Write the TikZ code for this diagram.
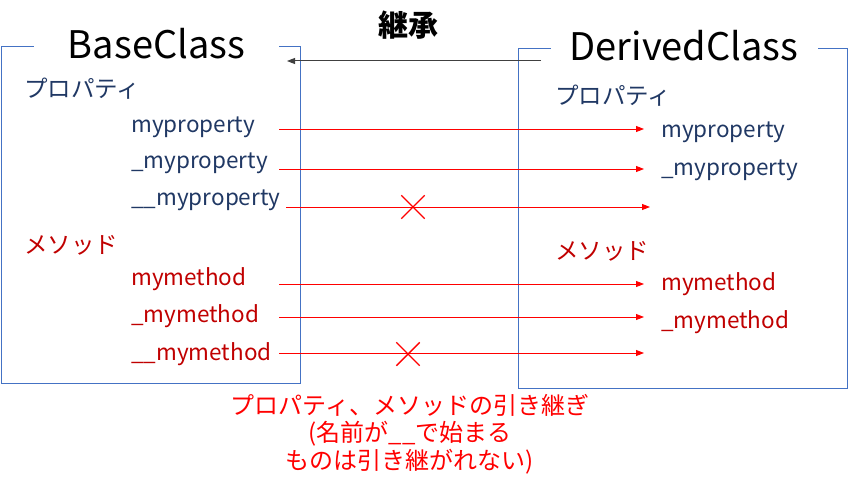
\documentclass[tikz,border=0pt]{standalone}
\usepackage{fontspec}
\setmainfont{Noto Sans CJK JP}
\usepackage{tikz}
\usetikzlibrary{arrows.meta,shapes.misc}
\definecolor{frameblue}{HTML}{4472C4}
\definecolor{propblue}{HTML}{203864}
\definecolor{methred}{HTML}{C00000}
\definecolor{inhgray}{HTML}{404040}

\begin{document}
\begin{tikzpicture}[x=1pt,y=-1pt,
		frame/.style={draw=frameblue,line width=1pt,inner sep=0pt},
		title/.style={fill=white,inner sep=0pt,font=\fontsize{38}{40}\selectfont},
		head/.style={anchor=base west,inner sep=0pt,font=\fontsize{23.5}{25}\selectfont},
		prop/.style={anchor=base west,inner sep=0pt,text=propblue,font=\fontsize{22.5}{24}\selectfont},
		meth/.style={prop,text=methred},
		pass/.style={draw=red,line width=0.9pt,-{Triangle[length=8pt,width=6pt]}},
		ng/.style={cross out,draw=red,line width=1.4pt,minimum size=22pt,inner sep=0pt}]
		\useasboundingbox (0,0) rectangle (848,495);
		\node[frame,minimum width=299pt,minimum height=336pt] (base) at (150.5,215) {};
		\node[frame,minimum width=329pt,minimum height=339pt] (derived) at (682.5,218.5) {};
		\node[title,minimum width=245pt,minimum height=14pt] (baseTitle) at (156.5,43.5) {BaseClass};
		\node[title,minimum width=267pt,minimum height=14pt] (derivedTitle) at (684,45.5) {DerivedClass};
		\node[font=\bfseries\fontsize{30}{32}\selectfont,inner sep=0pt] (inh) at (408,25) {継承};
		\coordinate (inhFrom) at (541,61);
		\coordinate (inhTo) at (287,61);
		\draw[line width=1pt,draw=inhgray,-{Triangle[length=8pt,width=6pt]}] (inhFrom) -- (inhTo);
		
		\node[head,text=propblue] (propL) at (24,97) {プロパティ};
		\node[prop] (pL1) at (131,132) {myproperty};
		\node[prop] (pL2) at (131,168) {\_myproperty};
		\node[prop] (pL3) at (131,205) {\_\_myproperty};
		\node[head,text=methred] (methL) at (24,253) {メソッド};
		\node[meth] (mL1) at (131,285) {mymethod};
		\node[meth] (mL2) at (131,322) {\_mymethod};
		\node[meth] (mL3) at (131,360) {\_\_mymethod};
		
		\node[head,text=propblue] (propR) at (555,104) {プロパティ};
		\node[prop] (pR1) at (661,137) {myproperty};
		\node[prop] (pR2) at (661,175) {\_myproperty};
		\node[head,text=methred] (methR) at (555,259) {メソッド};
		\node[meth] (mR1) at (661,290) {mymethod};
		\node[meth] (mR2) at (661,328) {\_mymethod};
		
		\foreach \n/\xa/\xb/\y in {1/279/644/129, 2/279/644/169, 3/286/650/207, 4/279/644/284, 5/279/644/317, 6/279/644/353}
		{
			\coordinate (from\n) at (\xa,\y);
			\coordinate (to\n) at (\xb,\y);
			\draw[pass] (from\n) -- (to\n);
		}
		\node[ng] (ng1) at (413,207) {};
		\node[ng] (ng2) at (408,354) {};
		
		\node[text=red,align=center,inner sep=0pt,font=\fontsize{24}{27.5}\selectfont] (note) at (410,434)
		{プロパティ、メソッドの引き継ぎ\\(名前が\_\_で始まる\\ものは引き継がれない)};
	\end{tikzpicture}
\end{document}
